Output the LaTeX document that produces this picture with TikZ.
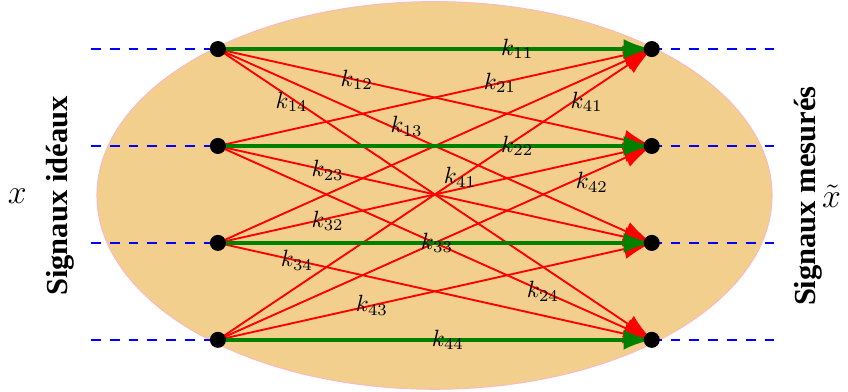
\documentclass[tikz,border=0pt]{standalone}
\usepackage{fontspec}
\newfontfamily\sidefont{Liberation Serif}
\usetikzlibrary{arrows.meta}
\definecolor{ellipsefill}{RGB}{242,207,141}
\definecolor{ellipseline}{RGB}{250,185,195}
\begin{document}
\begin{tikzpicture}[>={Latex[length=12pt,width=8.5pt]},
    dot/.style={circle, fill=black, inner sep=0pt, minimum size=0.24cm},
    link/.style={->, red, thick},
    direct/.style={->, green!50!black, line width=1.6pt},
    guide/.style={blue, dash pattern=on 4.2pt off 3.8pt, semithick},
    lbl/.style={text=black},
    side/.style={rotate=90, font=\sidefont\bfseries\fontsize{13}{15}\selectfont}]
    \useasboundingbox (0,0) rectangle (12.686,5.864);

    \draw[ellipseline, fill=ellipsefill] (6.5,2.94) ellipse (5.05 and 2.9);

    % entrees (gauche) et sorties (droite)
    \coordinate (e1) at (3.26,5.13);
    \coordinate (e2) at (3.26,3.68);
    \coordinate (e3) at (3.26,2.23);
    \coordinate (e4) at (3.26,0.78);
    \coordinate (s1) at (9.75,5.13);
    \coordinate (s2) at (9.75,3.68);
    \coordinate (s3) at (9.75,2.23);
    \coordinate (s4) at (9.75,0.78);

    % bouts des pointilles
    \coordinate (in1) at (1.36,5.13);
    \coordinate (in2) at (1.36,3.68);
    \coordinate (in3) at (1.36,2.23);
    \coordinate (in4) at (1.36,0.78);
    \coordinate (out1) at (11.6,5.13);
    \coordinate (out2) at (11.6,3.68);
    \coordinate (out3) at (11.6,2.23);
    \coordinate (out4) at (11.6,0.78);

    \draw[guide] (in1) -- (e1);
    \draw[guide] (in2) -- (e2);
    \draw[guide] (in3) -- (e3);
    \draw[guide] (in4) -- (e4);
    \draw[guide] (s1) -- (out1);
    \draw[guide] (s2) -- (out2);
    \draw[guide] (s3) -- (out3);
    \draw[guide] (s4) -- (out4);

    % couplages croises
    \draw[link] (e1) -- node[lbl, pos=0.32] {$k_{12}$} (s2);
    \draw[link] (e1) -- node[lbl, pos=0.435, yshift=3pt] {$k_{13}$} (s3);
    \draw[link] (e1) -- node[lbl, pos=0.17, yshift=-1.5pt] {$k_{14}$} (s4);
    \draw[link] (e2) -- node[lbl, pos=0.65] {$k_{21}$} (s1);
    \draw[link] (e2) -- node[lbl, pos=0.253] {$k_{23}$} (s3);
    \draw[link] (e2) -- node[lbl, pos=0.749] {$k_{24}$} (s4);
    \draw[link] (e3) -- (s1);
    \draw[link] (e3) -- node[lbl, pos=0.253, yshift=-1pt] {$k_{32}$} (s2);
    \draw[link] (e3) -- node[lbl, pos=0.182] {$k_{34}$} (s4);
    \draw[link] (e4) -- node[lbl, pos=0.558] {$k_{41}$}
        node[lbl, pos=0.85, yshift=-4pt] {$k_{41}$} (s1);
    \draw[link] (e4) -- node[lbl, pos=0.862, yshift=-4pt] {$k_{42}$} (s2);
    \draw[link] (e4) -- node[lbl, pos=0.355] {$k_{43}$} (s3);

    % transmissions directes
    \draw[direct] (e1) -- node[lbl, pos=0.69] {$k_{11}$} (s1);
    \draw[direct] (e2) -- node[lbl, pos=0.69] {$k_{22}$} (s2);
    \draw[direct] (e3) -- node[lbl, pos=0.505] {$k_{33}$} (s3);
    \draw[direct] (e4) -- node[lbl, pos=0.53] {$k_{44}$} (s4);

    \node[dot] (d1) at (e1) {};
    \node[dot] (d2) at (e2) {};
    \node[dot] (d3) at (e3) {};
    \node[dot] (d4) at (e4) {};
    \node[dot] (m1) at (s1) {};
    \node[dot] (m2) at (s2) {};
    \node[dot] (m3) at (s3) {};
    \node[dot] (m4) at (s4) {};

    \node (xin) at (0.26,2.93) {\Large $x$};
    \node[side] (ideal) at (0.9,2.93) {Signaux idéaux};
    \node[side] (mesure) at (12.09,2.93) {Signaux mesurés};
    \node (xout) at (12.44,2.93) {\Large $\tilde{x}$};
\end{tikzpicture}
\end{document}
